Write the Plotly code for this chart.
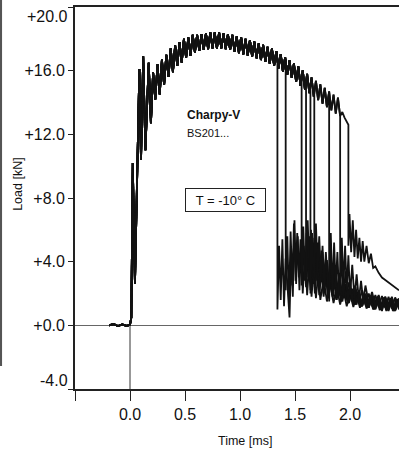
import plotly.graph_objects as go

# ---------------- data ----------------
# shared loading curve before fracture: time [ms], load [kN]
load_t = [-0.19, -0.15, -0.11, -0.07, -0.03, 0.0, 0.012, 0.025, 0.045, 0.085, 0.10, 0.12, 0.14, 0.17, 0.19,
          0.21, 0.23, 0.25, 0.27, 0.29, 0.31, 0.33, 0.35, 0.37, 0.39, 0.41, 0.43, 0.45, 0.47, 0.49,
          0.51, 0.53, 0.55, 0.57, 0.59, 0.61, 0.63, 0.65, 0.67, 0.69, 0.71, 0.73, 0.75, 0.77, 0.79,
          0.81, 0.83, 0.85, 0.87, 0.89, 0.91, 0.93, 0.95, 0.97, 0.99, 1.01, 1.03, 1.05, 1.07, 1.09,
          1.11, 1.13, 1.15, 1.17, 1.19, 1.21, 1.23, 1.25, 1.27, 1.29, 1.31, 1.33, 1.35, 1.37, 1.39,
          1.41, 1.43, 1.45, 1.47, 1.49, 1.51, 1.53, 1.55, 1.57, 1.59, 1.61, 1.63, 1.65, 1.67, 1.69,
          1.71, 1.73, 1.75, 1.77, 1.79, 1.81, 1.83, 1.85, 1.87, 1.89, 1.91, 1.93, 1.95, 1.97]
load_kn = [0.0, 0.08, -0.05, 0.06, -0.04, 0.05, 0.5, 10.2, 2.6, 16.1, 10.4, 16.9, 11.0, 16.5, 12.7,
           15.9, 14.2, 16.4, 14.5, 16.7, 15.1, 17.0, 15.6, 17.4, 15.9, 17.6, 16.3, 17.8, 16.5, 18.0,
           16.8, 18.1, 16.95, 18.25, 17.15, 18.25, 17.25, 18.3, 17.3, 18.35, 17.35, 18.4, 17.4, 18.4, 17.4,
           18.4, 17.4, 18.35, 17.35, 18.3, 17.3, 18.25, 17.2, 18.15, 17.1, 18.1, 17.03, 18.0, 16.95, 17.92,
           16.88, 17.83, 16.78, 17.72, 16.67, 17.62, 16.56, 17.5, 16.44, 17.38, 16.32, 17.23, 16.14, 17.04, 15.94,
           16.85, 15.75, 16.65, 15.55, 16.45, 15.3, 16.27, 15.05, 16.03, 14.81, 15.8, 14.59, 15.58, 14.37, 15.36,
           14.15, 15.14, 13.93, 14.92, 13.71, 14.7, 13.5, 14.5, 13.3, 14.3, 13.15, 13.4, 13.05, 12.8]

# fracture instants and load just before the drop, one per specimen
fracture_t = [1.34, 1.415, 1.56, 1.60, 1.64, 1.675, 1.81, 1.91, 1.985]
fracture_kn = [16.7, 16.5, 15.5, 15.3, 15.1, 14.6, 14.65, 13.15, 12.6]

# post-fracture traces
post_t_1 = [1.34, 1.355, 1.37, 1.385, 1.40, 1.415, 1.43, 1.45, 1.465, 1.48, 1.495, 1.51, 1.525, 1.54, 1.555,
            1.57, 1.59, 1.61, 1.63, 1.65, 1.67, 1.69, 1.71, 1.73, 1.76, 1.79, 1.82, 1.85, 1.88, 1.91,
            1.94, 1.97, 2.0, 2.03, 2.06, 2.09, 2.12, 2.15, 2.18, 2.21, 2.24, 2.27, 2.30, 2.33, 2.36,
            2.39, 2.42, 2.445]
post_kn_1 = [1.0, 5.0, 1.6, 5.4, 1.2, 4.2, 2.4, 0.5, 4.6, 1.8, 6.6, 2.6, 5.6, 2.2, 5.0,
             2.0, 4.5, 1.9, 4.0, 1.8, 3.6, 1.7, 3.2, 1.6, 2.9, 1.5, 2.6, 1.4, 2.4, 1.3,
             2.2, 1.2, 2.0, 1.15, 1.9, 1.1, 1.8, 1.05, 1.75, 1.0, 1.7, 0.95, 1.65, 0.9, 1.6,
             0.9, 1.6, 1.0]

post_t_2 = [1.415, 1.43, 1.445, 1.46, 1.475, 1.49, 1.505, 1.52, 1.535, 1.55, 1.565, 1.58, 1.60, 1.62, 1.64,
            1.66, 1.68, 1.70, 1.72, 1.74, 1.76, 1.78, 1.80, 1.83, 1.86, 1.89, 1.92, 1.95, 1.98, 2.01,
            2.04, 2.07, 2.10, 2.13, 2.16, 2.19, 2.22, 2.25, 2.28, 2.31, 2.34, 2.37, 2.40, 2.445]
post_kn_2 = [2.2, 5.6, 1.4, 5.9, 2.5, 6.4, 2.8, 5.8, 3.0, 5.4, 2.6, 5.0, 2.4, 4.6, 2.2,
             4.2, 2.0, 3.8, 1.9, 3.4, 1.8, 3.1, 1.7, 2.8, 1.6, 2.5, 1.5, 2.3, 1.4, 2.1,
             1.3, 2.0, 1.2, 1.9, 1.1, 1.85, 1.05, 1.8, 1.0, 1.75, 1.0, 1.7, 0.95, 1.6]

post_t_3 = [1.56, 1.575, 1.59, 1.605, 1.62, 1.635, 1.65, 1.665, 1.68, 1.70, 1.72, 1.74, 1.76, 1.78, 1.80,
            1.82, 1.84, 1.86, 1.88, 1.90, 1.93, 1.96, 1.99, 2.02, 2.05, 2.08, 2.11, 2.14, 2.17, 2.20,
            2.23, 2.26, 2.29, 2.32, 2.35, 2.38, 2.41, 2.445]
post_kn_3 = [2.5, 6.2, 2.8, 5.8, 3.0, 5.6, 2.6, 5.2, 2.4, 4.8, 2.2, 4.4, 2.0, 3.9, 1.9,
             3.5, 1.8, 3.1, 1.6, 2.8, 1.5, 2.5, 1.4, 2.2, 1.3, 2.0, 1.2, 1.9, 1.1, 1.8,
             1.05, 1.75, 1.0, 1.7, 1.0, 1.65, 0.95, 1.6]

post_t_4 = [1.60, 1.615, 1.63, 1.645, 1.66, 1.675, 1.69, 1.705, 1.72, 1.74, 1.76, 1.78, 1.80, 1.82, 1.84,
            1.86, 1.88, 1.90, 1.92, 1.95, 1.98, 2.01, 2.04, 2.07, 2.10, 2.13, 2.16, 2.19, 2.22, 2.25,
            2.28, 2.31, 2.34, 2.37, 2.40, 2.43, 2.445]
post_kn_4 = [3.2, 6.6, 3.5, 6.0, 3.0, 5.5, 2.8, 5.2, 2.6, 4.7, 2.3, 4.2, 2.1, 3.8, 1.9,
             3.3, 1.7, 2.9, 1.6, 2.6, 1.4, 2.3, 1.3, 2.1, 1.2, 1.95, 1.1, 1.85, 1.0, 1.8,
             1.0, 1.75, 0.95, 1.7, 0.9, 1.65, 1.3]

post_t_5 = [1.64, 1.655, 1.67, 1.685, 1.70, 1.715, 1.73, 1.75, 1.77, 1.79, 1.81, 1.83, 1.85, 1.87, 1.89,
            1.91, 1.93, 1.96, 1.99, 2.02, 2.05, 2.08, 2.11, 2.14, 2.17, 2.20, 2.23, 2.26, 2.29, 2.32,
            2.35, 2.38, 2.41, 2.445]
post_kn_5 = [2.0, 5.8, 2.6, 5.6, 3.2, 5.0, 2.7, 4.6, 2.4, 4.1, 2.2, 3.6, 2.0, 3.2, 1.8,
             2.9, 1.7, 2.6, 1.5, 2.3, 1.35, 2.1, 1.25, 1.95, 1.15, 1.9, 1.1, 1.85, 1.05, 1.8,
             1.0, 1.75, 1.0, 1.7]

post_t_6 = [1.675, 1.69, 1.705, 1.72, 1.735, 1.75, 1.765, 1.78, 1.80, 1.82, 1.84, 1.86, 1.88, 1.90, 1.92,
            1.94, 1.96, 1.99, 2.02, 2.05, 2.08, 2.11, 2.14, 2.17, 2.20, 2.23, 2.26, 2.29, 2.32, 2.35,
            2.38, 2.41, 2.445]
post_kn_6 = [3.0, 6.4, 3.4, 5.6, 3.0, 5.0, 2.6, 4.6, 2.5, 4.2, 2.2, 3.7, 2.0, 3.3, 1.9,
             3.0, 1.7, 2.7, 1.6, 2.4, 1.4, 2.2, 1.3, 2.0, 1.2, 1.9, 1.15, 1.85, 1.1, 1.8,
             1.05, 1.75, 1.2]

post_t_7 = [1.81, 1.825, 1.84, 1.855, 1.87, 1.885, 1.90, 1.92, 1.94, 1.96, 1.98, 2.0, 2.02, 2.04, 2.06,
            2.08, 2.11, 2.14, 2.17, 2.20, 2.23, 2.26, 2.29, 2.32, 2.35, 2.38, 2.41, 2.445]
post_kn_7 = [1.5, 5.8, 2.0, 5.2, 2.4, 4.6, 1.9, 4.0, 1.8, 3.4, 1.6, 2.9, 1.5, 2.5, 1.3,
             2.2, 1.2, 2.0, 1.1, 1.9, 1.0, 1.8, 0.9, 1.7, 0.9, 1.7, 0.9, 1.6]

post_t_8 = [1.91, 1.925, 1.94, 1.955, 1.97, 1.985, 2.0, 2.02, 2.04, 2.06, 2.08, 2.10, 2.12, 2.14, 2.17,
            2.20, 2.23, 2.26, 2.29, 2.32, 2.35, 2.38, 2.41, 2.445]
post_kn_8 = [2.0, 5.5, 2.5, 5.0, 2.2, 4.4, 1.9, 3.8, 1.7, 3.2, 1.6, 2.8, 1.5, 2.5, 1.4,
             2.1, 1.2, 1.9, 1.1, 1.8, 1.1, 1.8, 1.0, 1.6]

post_t_9 = [1.985, 1.995, 2.01, 2.025, 2.04, 2.055, 2.07, 2.085, 2.10, 2.115, 2.13, 2.15, 2.17, 2.19, 2.21,
            2.23, 2.26, 2.29, 2.32, 2.35, 2.38, 2.41, 2.445]
post_kn_9 = [5.0, 7.0, 4.6, 6.6, 4.3, 6.0, 4.2, 5.5, 4.0, 5.3, 4.0, 5.0, 3.9, 4.5, 3.6,
             3.7, 3.3, 3.0, 2.85, 2.7, 2.5, 2.35, 2.2]

post_t = [post_t_1, post_t_2, post_t_3, post_t_4, post_t_5, post_t_6, post_t_7, post_t_8, post_t_9]
post_kn = [post_kn_1, post_kn_2, post_kn_3, post_kn_4, post_kn_5, post_kn_6, post_kn_7, post_kn_8, post_kn_9]

# axis ticks
x_tickvals = [-0.5, 0.0, 0.5, 1.0, 1.5, 2.0]
x_ticktext = ["", "0.0", "0.5", "1.0", "1.5", "2.0"]
y_tickvals = [-4, 0, 4, 8, 12, 16, 20]
y_ticktext = ["", "+0.0", "+4.0", "+8.0", "+12.0", "+16.0", ""]

# ---------------- figure ----------------
FONT = "Liberation Sans, Arial, Helvetica, sans-serif"
INK = "#121212"

fig = go.Figure()

for i in range(len(fracture_t)):
    td = fracture_t[i]
    xs = [t for t in load_t if t < td] + [td] + post_t[i]
    ys = [v for t, v in zip(load_t, load_kn) if t < td] + [fracture_kn[i]] + post_kn[i]
    fig.add_trace(go.Scatter(x=xs, y=ys, mode="lines",
                             line=dict(color=INK, width=1.8),
                             hoverinfo="skip", showlegend=False))

fig.update_layout(
    width=399, height=450,
    margin=dict(l=75, r=0, t=7, b=61, autoexpand=False),
    paper_bgcolor="white", plot_bgcolor="white",
    font=dict(family=FONT, color="#111", size=16),
    showlegend=False,
)

fig.update_xaxes(
    range=[-0.5, 2.445], tickvals=x_tickvals, ticktext=x_ticktext,
    ticks="outside", ticklen=10, tickwidth=1.3, tickcolor="#222",
    showline=True, linecolor="#222", linewidth=1.5, mirror=True,
    showgrid=False, zeroline=False,
    tickfont=dict(size=16, family=FONT, color="#111"),
)
fig.update_yaxes(
    range=[-4, 20], tickvals=y_tickvals, ticktext=y_ticktext,
    ticks="outside", ticklen=5, tickwidth=1.3, tickcolor="#222",
    showline=True, linecolor="#222", linewidth=1.8,
    showgrid=False, zeroline=True, zerolinecolor="#666", zerolinewidth=1,
    tickfont=dict(size=16, family=FONT, color="#111"),
)

# vertical reference at t = 0 below the trace
fig.add_shape(type="line", xref="x", yref="y", x0=0, x1=0, y0=-4, y1=0,
              line=dict(color="#333", width=1))
# dark scan edge on the left
fig.add_shape(type="line", xref="paper", yref="paper", x0=-0.229, x1=-0.229, y0=0.06, y1=1.02,
              line=dict(color="#555", width=2.5))

annots = [
    dict(text="+20.0", xref="paper", yref="y", x=0, y=20, xanchor="right", yanchor="middle",
         xshift=-5, yshift=-9, showarrow=False, font=dict(size=16)),
    dict(text="-4.0", xref="paper", yref="y", x=0, y=-4, xanchor="right", yanchor="middle",
         xshift=-5, yshift=9, showarrow=False, font=dict(size=16)),
    dict(text="Load [kN]", xref="paper", yref="paper", x=-0.176, y=0.537, textangle=-90,
         xanchor="center", yanchor="middle", showarrow=False, font=dict(size=12.5)),
    dict(text="Time [ms]", xref="paper", yref="paper", x=0.525, y=-0.136,
         xanchor="center", yanchor="middle", showarrow=False, font=dict(size=12.5)),
    dict(text="<b>Charpy-V</b>", xref="x", yref="y", x=0.5, y=13.24,
         xanchor="left", yanchor="middle", showarrow=False, font=dict(size=12)),
    dict(text="BS201...", xref="x", yref="y", x=0.5, y=12.1,
         xanchor="left", yanchor="middle", showarrow=False, font=dict(size=11)),
    dict(text="T = -10° C", xref="x", yref="y", x=0.864, y=7.9,
         xanchor="center", yanchor="middle", showarrow=False, font=dict(size=13),
         bordercolor="#222", borderwidth=1, borderpad=3, width=73, height=16, bgcolor="white"),
]
fig.update_layout(annotations=annots)

fig.write_html("out.html", config={"displayModeBar": False},
               post_script="document.body.style.margin='0';document.body.style.overflow='hidden';")
